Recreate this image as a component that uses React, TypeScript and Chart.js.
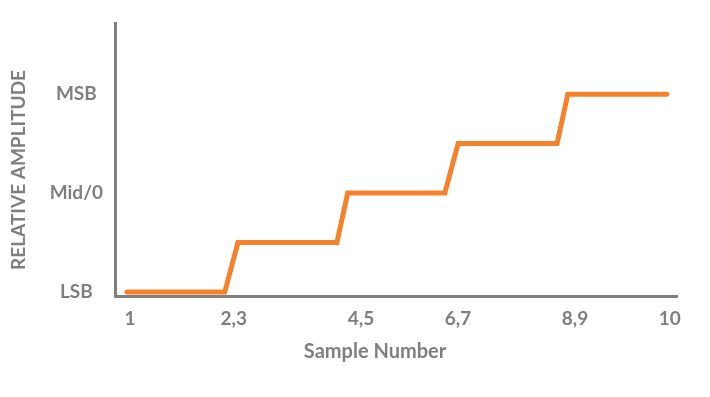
import React, { useEffect, useRef } from "react";
import { Chart, registerables } from "chart.js";

Chart.register(...registerables);

// Step signal (x in sample units, y in quantisation levels 0..4)
const stepX: number[] = [0.95, 2.58, 2.8, 4.45, 4.63, 6.25, 6.47, 8.12, 8.3, 9.95];
const stepY: number[] = [0, 0, 1, 1, 2, 2, 3, 3, 4, 4];

// X-axis tick labels and where they sit along the sample axis
const xTickValues: number[] = [1, 2.73, 4.85, 6.47, 8.42, 10];
const xTickLabels: string[] = ["1", "2,3", "4,5", "6,7", "8,9", "10"];

// Y-axis tick labels (levels)
const yTickValues: number[] = [0, 2, 4];
const yTickLabels: string[] = ["LSB", "Mid/0", "MSB"];

const xTitle = "Sample Number";
const yTitle = "RELATIVE AMPLITUDE";

const GRAY = "#7f7f7f";
const ORANGE = "#f5822a";
const FONT = { family: "Lato", size: 19, weight: "bold" as const };

const axisTitles = {
  id: "axisTitles",
  afterDraw(chart: any) {
    const { ctx, chartArea } = chart;
    ctx.save();
    ctx.fillStyle = GRAY;
    ctx.textAlign = "center";
    ctx.textBaseline = "middle";
    ctx.font = `bold 20px ${FONT.family}`;
    ctx.fillText(xTitle, (chartArea.left + chartArea.right) / 2 - 21, chartArea.bottom + 55);
    ctx.font = `bold 19px ${FONT.family}`;
    ctx.translate(18.5, (chartArea.top + chartArea.bottom) / 2 + 10);
    ctx.rotate(-Math.PI / 2);
    ctx.fillText(yTitle, 0, 0);
    ctx.restore();
  },
};

export default function App() {
  const ref = useRef<HTMLCanvasElement | null>(null);

  useEffect(() => {
    if (!ref.current) return;
    const data = stepX.map((x, i) => ({ x, y: stepY[i] }));
    const chart = new Chart(ref.current, {
      type: "line",
      data: {
        datasets: [
          {
            data,
            borderColor: ORANGE,
            backgroundColor: ORANGE,
            borderWidth: 5,
            pointRadius: 0,
            tension: 0,
            borderCapStyle: "round",
            borderJoinStyle: "miter",
          },
        ],
      },
      options: {
        animation: false,
        responsive: false,
        events: [],
        layout: { padding: { top: 20, right: 33, left: 0, bottom: 0 } },
        plugins: {
          legend: { display: false },
          tooltip: { enabled: false },
        },
        scales: {
          x: {
            type: "linear",
            min: 0.75,
            max: 10.12,
            grid: { display: false, drawTicks: false },
            border: { display: true, color: GRAY, width: 3 },
            afterBuildTicks: (scale: any) => {
              scale.ticks = xTickValues.map((v) => ({ value: v }));
            },
            afterFit: (scale: any) => {
              scale.height = 100.5;
            },
            ticks: {
              autoSkip: false,
              maxRotation: 0,
              padding: 11,
              color: GRAY,
              font: FONT,
              callback: (_v: any, i: number) => xTickLabels[i],
            },
          },
          y: {
            type: "linear",
            min: -0.09,
            max: 5.43,
            grid: { display: false, drawTicks: false },
            border: { display: true, color: GRAY, width: 3 },
            afterBuildTicks: (scale: any) => {
              scale.ticks = yTickValues.map((v) => ({ value: v }));
            },
            afterFit: (scale: any) => {
              scale.width = 115;
            },
            ticks: {
              autoSkip: false,
              crossAlign: "center",
              padding: 12,
              color: GRAY,
              font: FONT,
              callback: (_v: any, i: number) => yTickLabels[i],
            },
          },
        },
      },
      plugins: [axisTitles],
    });
    return () => chart.destroy();
  }, []);

  return (
    <div style={{ position: "fixed", left: 0, top: 0, width: 710, height: 397, background: "#fff" }}>
      <canvas ref={ref} width={710} height={397} />
    </div>
  );
}
